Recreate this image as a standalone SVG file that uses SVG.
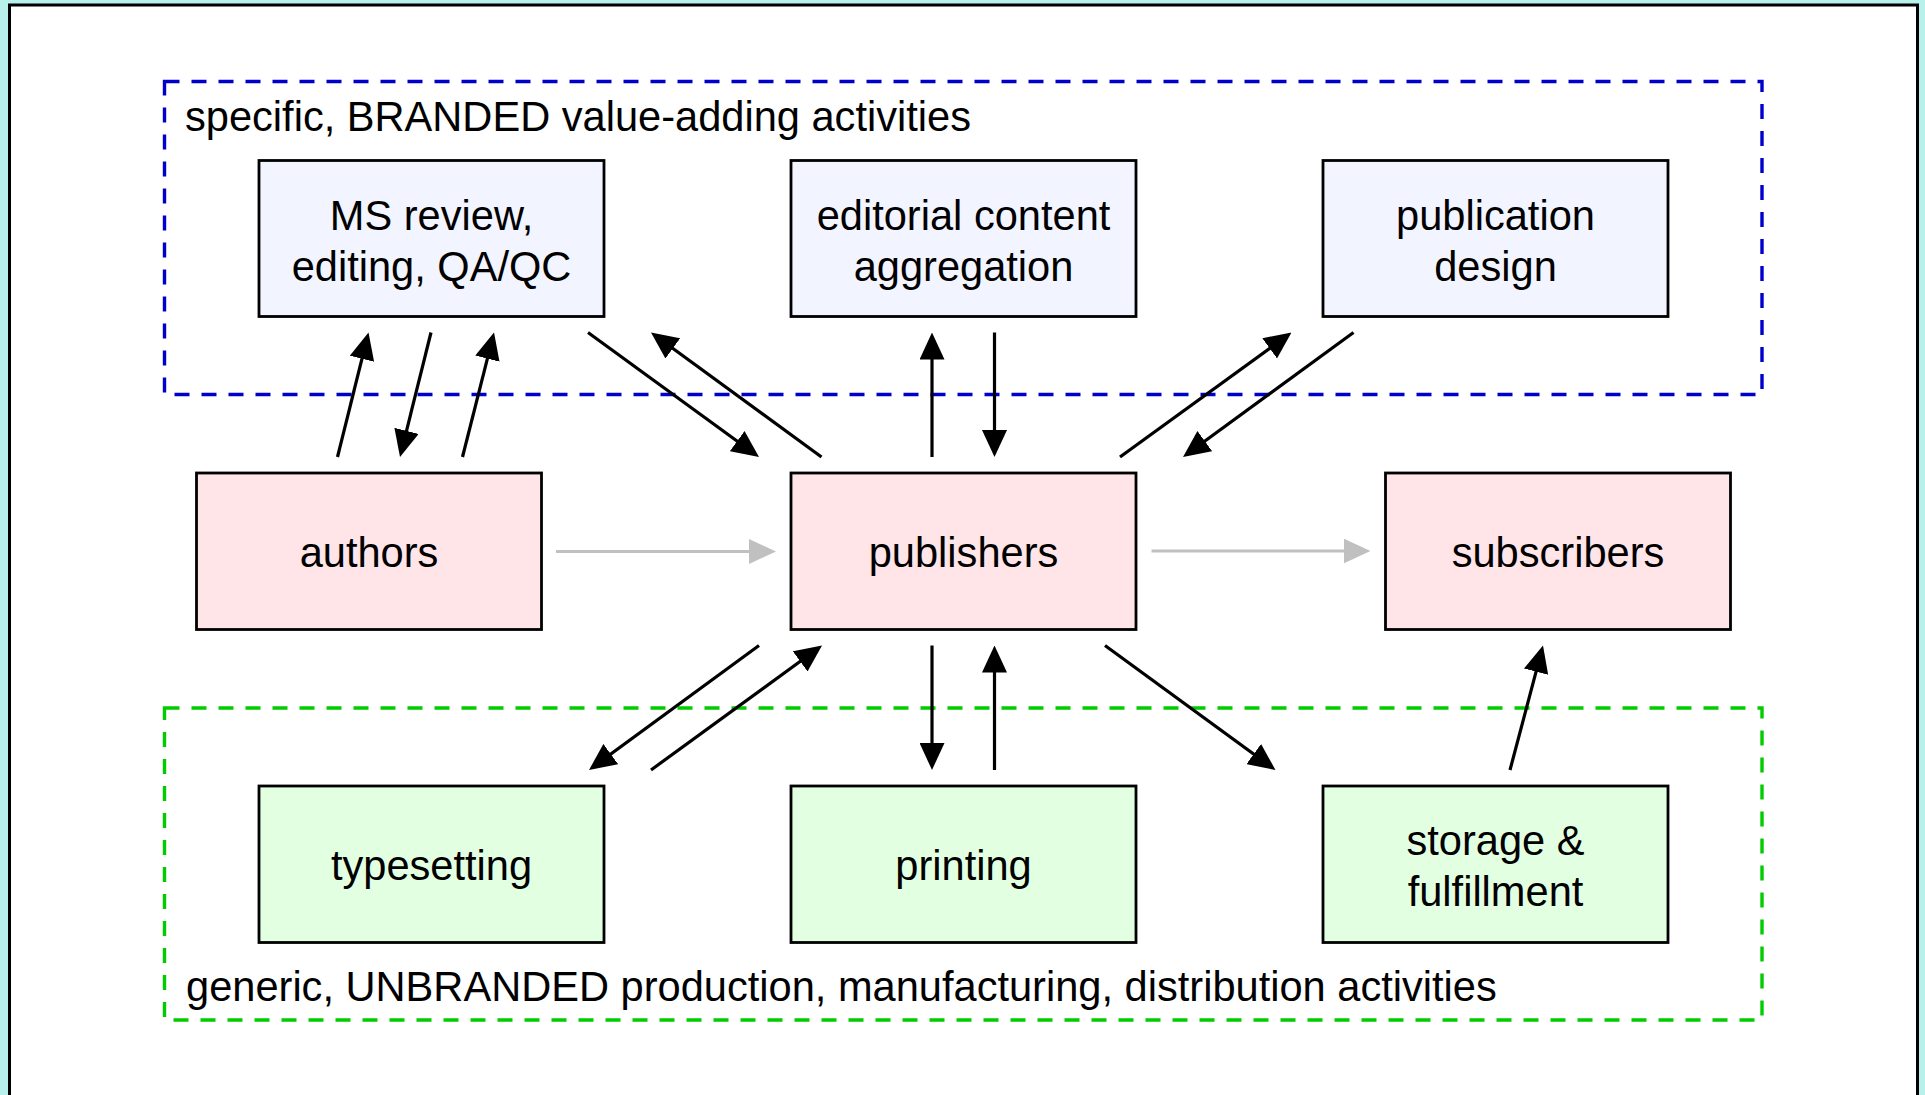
<svg xmlns="http://www.w3.org/2000/svg" width="1925" height="1095" viewBox="0 0 1925 1095">
<style>
.box{stroke:#000;stroke-width:2.8}
.top{fill:#f2f5ff}
.mid{fill:#ffe4e8}
.bot{fill:#e2ffe2}
text{font-family:"Liberation Sans",Arial,sans-serif;font-size:41.6px;fill:#000}
.c{text-anchor:middle}
.ar{stroke:#000;stroke-width:3.2;fill:none;marker-end:url(#ah)}
.gr{stroke:#c0c0c0;stroke-width:3.2;fill:none;marker-end:url(#gh)}
.grp{fill:none;stroke-width:3.4;stroke-dasharray:15 12}
</style>
<defs>
<marker id="ah" markerUnits="userSpaceOnUse" markerWidth="27" markerHeight="25" refX="21" refY="12.5" orient="auto">
<path d="M0,0 L27,12.5 L0,25 z" fill="#000"/>
</marker>
<marker id="gh" markerUnits="userSpaceOnUse" markerWidth="27" markerHeight="25" refX="21" refY="12.5" orient="auto">
<path d="M0,0 L27,12.5 L0,25 z" fill="#c0c0c0"/>
</marker>
</defs>
<rect x="0" y="0" width="1925" height="1095" fill="#b8f1ec"/>
<rect x="9.5" y="5" width="1908" height="1200" fill="#fff" stroke="#000" stroke-width="3"/>

<g id="branded-group">
<rect class="grp" x="164.5" y="81.5" width="1597.5" height="313" stroke="#0000cc"/>
<text x="185" y="131">specific, BRANDED value-adding activities</text>
</g>
<g id="unbranded-group">
<rect class="grp" x="164.5" y="708" width="1597.5" height="312" stroke="#00cc00"/>
<text x="186" y="1001">generic, UNBRANDED production, manufacturing, distribution activities</text>
</g>

<g id="connectors">
<line class="ar" x1="337.5" y1="457" x2="367.05" y2="338.32"/>
<line class="ar" x1="431" y1="332.5" x2="401.45" y2="451.18"/>
<line class="ar" x1="462.5" y1="457" x2="492.53" y2="338.32"/>
<line class="ar" x1="588" y1="332.5" x2="754.15" y2="453.47"/>
<line class="ar" x1="821.5" y1="457" x2="655.85" y2="336.04"/>
<line class="ar" x1="932" y1="457" x2="932" y2="338.5"/>
<line class="ar" x1="994.5" y1="332.5" x2="994.5" y2="451"/>
<line class="ar" x1="1120" y1="457" x2="1286.64" y2="336.03"/>
<line class="ar" x1="1353.5" y1="332.5" x2="1187.85" y2="453.46"/>
<line class="gr" x1="556" y1="551.5" x2="770" y2="551.5"/>
<line class="gr" x1="1151.5" y1="551" x2="1364.5" y2="551"/>
<line class="ar" x1="759" y1="645.5" x2="593.84" y2="766.45"/>
<line class="ar" x1="651" y1="770" x2="817.15" y2="649.03"/>
<line class="ar" x1="932" y1="645.5" x2="932" y2="764"/>
<line class="ar" x1="994.5" y1="770" x2="994.5" y2="651.5"/>
<line class="ar" x1="1105" y1="645.5" x2="1270.65" y2="766.46"/>
<line class="ar" x1="1510" y1="770" x2="1541.46" y2="651.3"/>
</g>

<g id="ms-review">
<rect class="box top" x="259" y="160.5" width="345" height="156"/>
<text class="c" x="431.5" y="230">MS review,</text>
<text class="c" x="431.5" y="280.5">editing, QA/QC</text>
</g>
<g id="editorial">
<rect class="box top" x="791" y="160.5" width="345" height="156"/>
<text class="c" x="963.5" y="230">editorial content</text>
<text class="c" x="963.5" y="280.5">aggregation</text>
</g>
<g id="pub-design">
<rect class="box top" x="1323" y="160.5" width="345" height="156"/>
<text class="c" x="1495.5" y="230">publication</text>
<text class="c" x="1495.5" y="280.5">design</text>
</g>

<g id="authors">
<rect class="box mid" x="196.5" y="473" width="345" height="156.5"/>
<text class="c" x="369" y="567">authors</text>
</g>
<g id="publishers">
<rect class="box mid" x="791" y="473" width="345" height="156.5"/>
<text class="c" x="963.5" y="567">publishers</text>
</g>
<g id="subscribers">
<rect class="box mid" x="1385.5" y="473" width="345" height="156.5"/>
<text class="c" x="1558" y="567">subscribers</text>
</g>

<g id="typesetting">
<rect class="box bot" x="259" y="786" width="345" height="156.5"/>
<text class="c" x="431.5" y="880">typesetting</text>
</g>
<g id="printing">
<rect class="box bot" x="791" y="786" width="345" height="156.5"/>
<text class="c" x="963.5" y="880">printing</text>
</g>
<g id="storage">
<rect class="box bot" x="1323" y="786" width="345" height="156.5"/>
<text class="c" x="1495.5" y="855">storage &amp;</text>
<text class="c" x="1495.5" y="905.5">fulfillment</text>
</g>
</svg>
